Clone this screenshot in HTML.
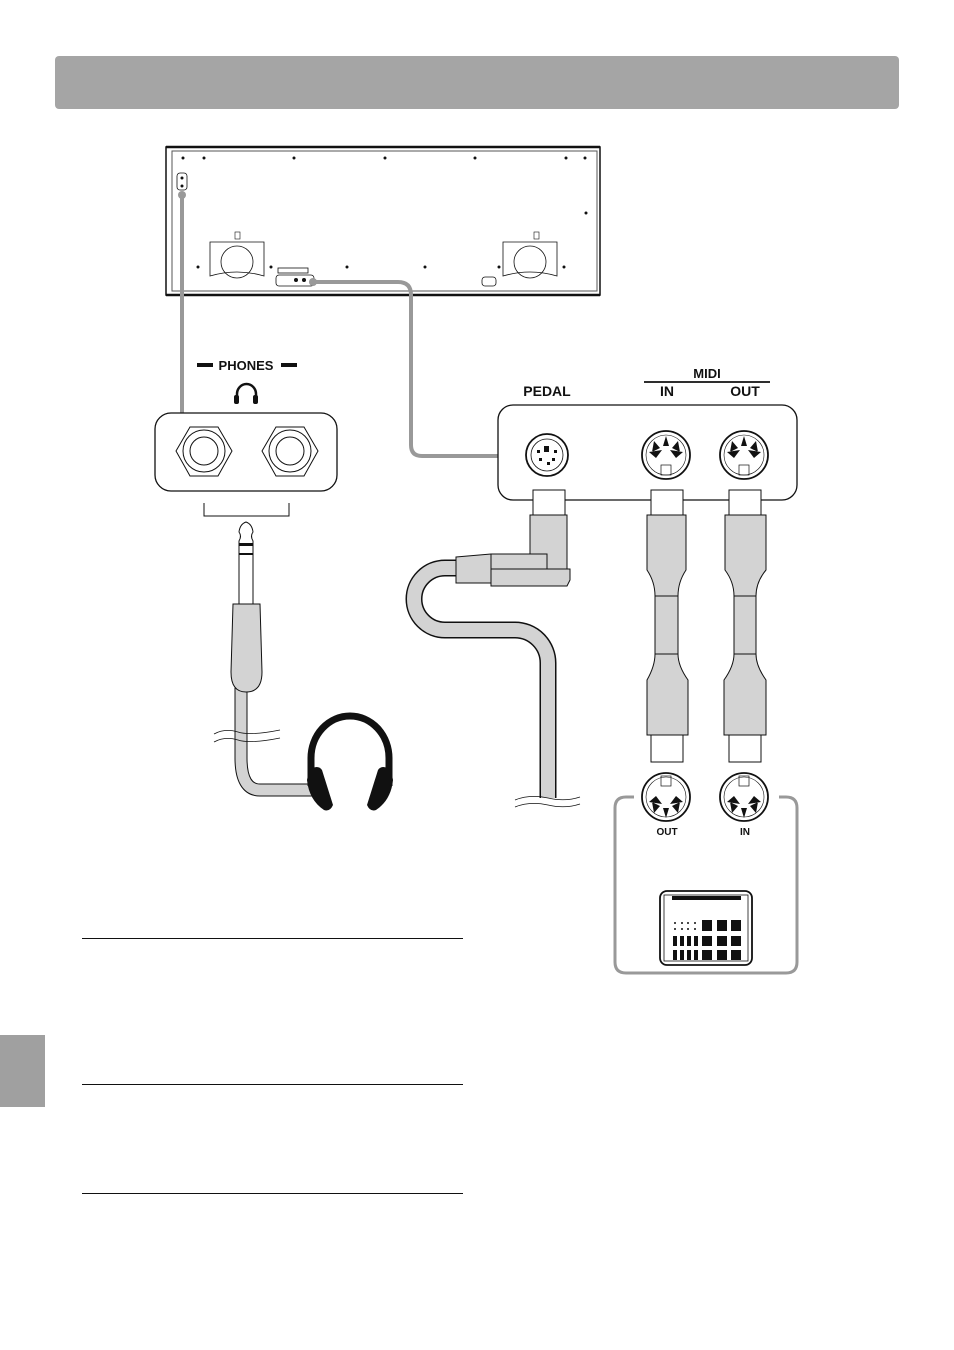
<!DOCTYPE html>
<html><head><meta charset="utf-8"><style>
html,body{margin:0;padding:0;background:#fff}
svg{display:block}
text{font-family:"Liberation Sans",Arial,sans-serif;font-weight:bold;fill:#111}
</style></head><body>
<svg width="954" height="1350" viewBox="0 0 954 1350" xmlns="http://www.w3.org/2000/svg">
<rect x="55" y="56" width="844" height="53" rx="4" fill="#a5a5a5"/>
<rect x="0" y="1035" width="45" height="72" fill="#a0a0a0"/>

<!-- piano -->
<g fill="none" stroke="#111">
<rect x="166" y="147" width="434" height="148" stroke-width="1.5"/>
<rect x="172" y="151" width="425" height="140" stroke="#555" stroke-width="1"/>
<line x1="166" y1="147" x2="600" y2="147" stroke-width="2.5"/>
<line x1="166" y1="295" x2="600" y2="295" stroke-width="2.5"/>
<path d="M210,248 V242 H264 V276 Q237,268 210,276 Z" stroke-width="0.8"/>
<circle cx="237" cy="262" r="16" stroke-width="0.8"/>
<path d="M503,248 V242 H557 V276 Q530,268 503,276 Z" stroke-width="0.8"/>
<circle cx="530" cy="262" r="16" stroke-width="0.8"/>
<rect x="276" y="275" width="38" height="11" rx="3" stroke-width="0.8"/>
<rect x="278" y="268" width="30" height="5" stroke-width="0.8"/>
<rect x="177" y="173" width="10" height="17" rx="3" stroke-width="0.8"/>
<rect x="482" y="277" width="14" height="9" rx="3" stroke-width="0.8"/>
<rect x="235" y="232" width="5" height="7" stroke-width="0.6"/>
<rect x="534" y="232" width="5" height="7" stroke-width="0.6"/>
</g>
<g fill="#111">
<circle cx="183" cy="158" r="1.5"/><circle cx="204" cy="158" r="1.5"/><circle cx="294" cy="158" r="1.5"/><circle cx="385" cy="158" r="1.5"/><circle cx="475" cy="158" r="1.5"/><circle cx="566" cy="158" r="1.5"/><circle cx="585" cy="158" r="1.5"/>
<circle cx="198" cy="267" r="1.5"/><circle cx="271" cy="267" r="1.5"/><circle cx="347" cy="267" r="1.5"/><circle cx="425" cy="267" r="1.5"/><circle cx="499" cy="267" r="1.5"/><circle cx="564" cy="267" r="1.5"/><circle cx="586" cy="213" r="1.5"/>
<circle cx="296" cy="280" r="2"/><circle cx="304" cy="280" r="2"/><circle cx="182" cy="178" r="1.5"/><circle cx="182" cy="186" r="1.5"/>
</g>

<!-- cables from piano -->
<g fill="none" stroke="#999" stroke-width="4">
<path d="M182,195 V413"/>
<path d="M313,282 H398 Q411,282 411,295 V445 Q411,456 422,456 H498"/>
</g>
<circle cx="182" cy="195" r="4" fill="#999"/>
<circle cx="313" cy="282" r="4" fill="#999"/>

<!-- phones -->
<text x="246" y="370" font-size="13" text-anchor="middle">PHONES</text>
<rect x="197" y="363" width="16" height="4" fill="#111"/>
<rect x="281" y="363" width="16" height="4" fill="#111"/>
<path d="M237,402 V394 A9.5,10 0 0 1 256,394 V402" fill="none" stroke="#111" stroke-width="2.5"/>
<rect x="234" y="395" width="5" height="9" rx="2" fill="#111"/>
<rect x="253" y="395" width="5" height="9" rx="2" fill="#111"/>
<rect x="155" y="413" width="182" height="78" rx="16" fill="#fff" stroke="#111" stroke-width="1.3"/>
<g fill="none" stroke="#111" stroke-width="1">
<polygon points="176,451 190,427 218,427 232,451 218,476 190,476"/>
<circle cx="204" cy="451" r="21"/><circle cx="204" cy="451" r="14"/>
<polygon points="262,451 276,427 304,427 318,451 304,476 276,476"/>
<circle cx="290" cy="451" r="21"/><circle cx="290" cy="451" r="14"/>
<path d="M204,503 V516 H289 V503"/>
</g>
<!-- plug -->
<path d="M239,541 Q242,536 239,532 Q240,524 246,522 Q252,524 253,532 Q250,536 253,541 V604 H239 Z" fill="#fff" stroke="#111" stroke-width="1"/>
<rect x="239" y="543" width="14" height="3" fill="#111"/><rect x="239" y="553" width="14" height="2" fill="#111"/>
<path d="M241,688 V758 Q241,790 260,790 H312" fill="none" stroke="#111" stroke-width="13"/>
<path d="M241,688 V758 Q241,790 260,790 H312" fill="none" stroke="#d3d3d3" stroke-width="11"/>
<path d="M233,604 H260 L262,672 Q262,692 246,692 Q231,692 231,672 Z" fill="#d3d3d3" stroke="#111" stroke-width="1"/>
<path d="M214,734 Q225,728 238,732 Q250,736 280,730 M214,742 Q225,736 238,740 Q250,744 280,738" fill="none" stroke="#111" stroke-width="0.8"/>
<!-- headphones -->
<path d="M311,786 V758 A39,42 0 0 1 389,758 V786" fill="none" stroke="#111" stroke-width="7"/>
<path d="M309,770 Q318,764 322,770 L333,805 Q330,812 324,810 Q309,800 307,780 Z" fill="#111"/>
<path d="M391,770 Q382,764 378,770 L367,805 Q370,812 376,810 Q391,800 393,780 Z" fill="#111"/>

<!-- pedal / midi panel -->
<text x="547" y="396" font-size="14" text-anchor="middle">PEDAL</text>
<text x="707" y="378" font-size="13" text-anchor="middle">MIDI</text>
<line x1="644" y1="382" x2="770" y2="382" stroke="#111" stroke-width="1.8"/>
<text x="667" y="396" font-size="14" text-anchor="middle">IN</text>
<text x="745" y="396" font-size="14" text-anchor="middle">OUT</text>
<rect x="498" y="405" width="299" height="95" rx="15" fill="#fff" stroke="#111" stroke-width="1.3"/>
<g fill="none" stroke="#111">
<circle cx="547" cy="455" r="21" stroke-width="1.8"/><circle cx="547" cy="455" r="16" stroke-width="0.8"/>
<circle cx="666" cy="455" r="24" stroke-width="1.8"/><circle cx="666" cy="455" r="20" stroke-width="0.6"/>
<circle cx="744" cy="455" r="24" stroke-width="1.8"/><circle cx="744" cy="455" r="20" stroke-width="0.6"/>
<rect x="661" y="465" width="10" height="10" stroke-width="0.7"/>
<rect x="739" y="465" width="10" height="10" stroke-width="0.7"/>
<circle cx="666" cy="797" r="24" stroke-width="1.8"/><circle cx="666" cy="797" r="20" stroke-width="0.6"/>
<circle cx="744" cy="797" r="24" stroke-width="1.8"/><circle cx="744" cy="797" r="20" stroke-width="0.6"/>
<rect x="661" y="776" width="10" height="10" stroke-width="0.7"/>
<rect x="739" y="776" width="10" height="10" stroke-width="0.7"/>
</g>
<g fill="#111">
<rect x="544" y="446" width="5" height="6"/><rect x="537" y="450" width="3" height="3"/><rect x="554" y="450" width="3" height="3"/><rect x="539" y="458" width="3" height="3"/><rect x="552" y="458" width="3" height="3"/><rect x="547" y="462" width="3" height="3"/>
<path d="M666,436 L663,446 L669,446 Z M654,441 L652,452 L660,448 Z M678,441 L680,452 L672,448 Z M649,452 L662,450 L656,458 Z M683,452 L670,450 L676,458 Z"/>
<path d="M744,436 L741,446 L747,446 Z M732,441 L730,452 L738,448 Z M756,441 L758,452 L750,448 Z M727,452 L740,450 L734,458 Z M761,452 L748,450 L754,458 Z"/>
<path d="M666,818 L663,808 L669,808 Z M654,813 L652,802 L660,806 Z M678,813 L680,802 L672,806 Z M649,802 L662,804 L656,796 Z M683,802 L670,804 L676,796 Z"/>
<path d="M744,818 L741,808 L747,808 Z M732,813 L730,802 L738,806 Z M756,813 L758,802 L750,806 Z M727,802 L740,804 L734,796 Z M761,802 L748,804 L754,796 Z"/>
</g>

<!-- pedal cable -->
<path d="M456,568 H445 A31,31 0 0 0 445,630 H515 A33,33 0 0 1 548,663 V798" fill="none" stroke="#111" stroke-width="17"/>
<path d="M456,568 H445 A31,31 0 0 0 445,630 H515 A33,33 0 0 1 548,663 V798" fill="none" stroke="#d3d3d3" stroke-width="14"/>
<path d="M515,800 Q530,794 548,798 Q565,802 580,797 M515,807 Q530,801 548,805 Q565,809 580,804" fill="none" stroke="#111" stroke-width="0.8"/>
<rect x="533" y="490" width="32" height="25" fill="#fff" stroke="#111"/>
<rect x="530" y="515" width="37" height="55" fill="#d3d3d3" stroke="#111"/>
<path d="M456,557 L491,554 H547 V583 H456 Z" fill="#d3d3d3" stroke="#111"/>
<path d="M491,554 V583" stroke="#111"/>
<path d="M491,569 H570 V580 L567,586 H491 Z" fill="#d3d3d3" stroke="#111"/>

<!-- midi cables -->
<g stroke="#111" stroke-width="1">
<rect x="651" y="490" width="32" height="25" fill="#fff"/>
<path d="M647,515 H686 V570 Q678,582 678,596 H655 Q655,582 647,570 Z" fill="#d3d3d3"/>
<rect x="655" y="596" width="23" height="58" fill="#d3d3d3"/>
<path d="M655,654 H678 Q678,666 688,680 V735 H647 V680 Q655,666 655,654 Z" fill="#d3d3d3"/>
<rect x="651" y="735" width="32" height="27" fill="#fff"/>
<rect x="729" y="490" width="32" height="25" fill="#fff"/>
<path d="M725,515 H766 V570 Q756,582 756,596 H734 Q734,582 725,570 Z" fill="#d3d3d3"/>
<rect x="734" y="596" width="22" height="58" fill="#d3d3d3"/>
<path d="M734,654 H756 Q756,666 766,680 V735 H724 V680 Q734,666 734,654 Z" fill="#d3d3d3"/>
<rect x="729" y="735" width="32" height="27" fill="#fff"/>
</g>

<!-- device -->
<path d="M634,797 H626 Q615,797 615,808 V962 Q615,973 626,973 H786 Q797,973 797,962 V808 Q797,797 786,797 H779" fill="none" stroke="#999" stroke-width="3"/>
<text x="667" y="835" font-size="10" text-anchor="middle">OUT</text>
<text x="745" y="835" font-size="10" text-anchor="middle">IN</text>
<rect x="660" y="891" width="92" height="74" rx="7" fill="#fff" stroke="#111" stroke-width="1.8"/>
<rect x="664" y="895" width="84" height="66" fill="none" stroke="#111" stroke-width="0.8"/>
<rect x="672" y="896" width="69" height="4" fill="#111"/>
<g fill="#111">
<circle cx="675" cy="923" r="1"/><circle cx="682" cy="923" r="1"/><circle cx="688" cy="923" r="1"/><circle cx="695" cy="923" r="1"/>
<circle cx="675" cy="929" r="1"/><circle cx="682" cy="929" r="1"/><circle cx="688" cy="929" r="1"/><circle cx="695" cy="929" r="1"/>
<rect x="702" y="920" width="10" height="11"/><rect x="717" y="920" width="10" height="11"/><rect x="731" y="920" width="10" height="11"/>
<rect x="673" y="936" width="4" height="10"/><rect x="680" y="936" width="4" height="10"/><rect x="687" y="936" width="4" height="10"/><rect x="694" y="936" width="4" height="10"/>
<rect x="702" y="936" width="10" height="10"/><rect x="717" y="936" width="10" height="10"/><rect x="731" y="936" width="10" height="10"/>
<rect x="673" y="950" width="4" height="10"/><rect x="680" y="950" width="4" height="10"/><rect x="687" y="950" width="4" height="10"/><rect x="694" y="950" width="4" height="10"/>
<rect x="702" y="950" width="10" height="10"/><rect x="717" y="950" width="10" height="10"/><rect x="731" y="950" width="10" height="10"/>
</g>

<!-- text separators -->
<g stroke="#111" stroke-width="1">
<line x1="82" y1="938.5" x2="463" y2="938.5"/>
<line x1="82" y1="1084.5" x2="463" y2="1084.5"/>
<line x1="82" y1="1193.5" x2="463" y2="1193.5"/>
</g>
</svg>
</body></html>
